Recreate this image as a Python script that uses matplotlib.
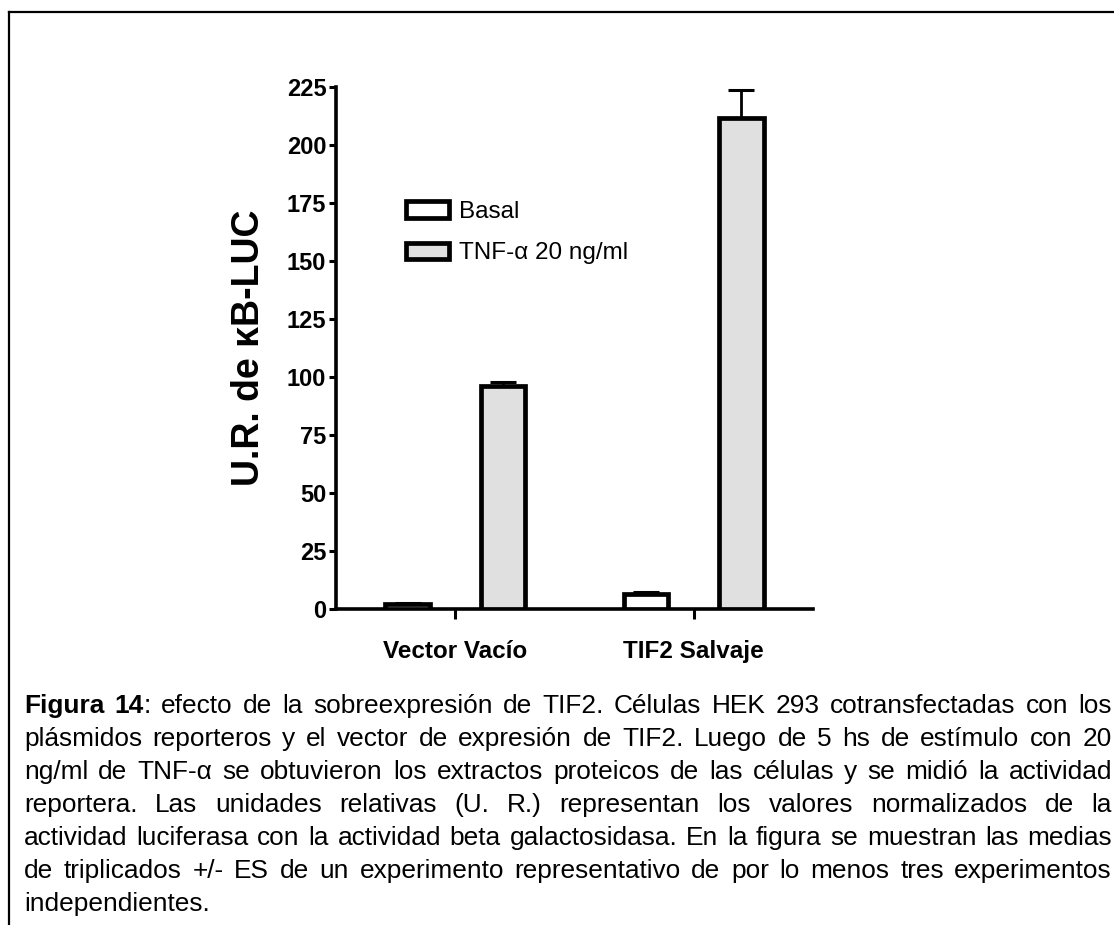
import matplotlib
matplotlib.use("Agg")
import matplotlib.pyplot as plt
from matplotlib.lines import Line2D
import numpy as np

plt.rcParams['font.family'] = ['Liberation Sans', 'DejaVu Sans']

# data
groups = ["Vector Vacío", "TIF2 Salvaje"]
basal = [2.2, 6.5]
basal_err = [0.3, 1.0]
tnf = [96.0, 211.5]
tnf_err = [2.0, 12.0]
yticks = np.arange(0, 226, 25)

caption = [
    [[("Figura", "bold")], [("14", "bold"), (":", "normal")], "efecto", "de", "la",
     "sobreexpresión", "de", "TIF2.", "Células", "HEK", "293", "cotransfectadas", "con", "los"],
    "plásmidos reporteros y el vector de expresión de TIF2. Luego de 5 hs de estímulo con 20",
    "ng/ml de TNF-α se obtuvieron los extractos proteicos de las células y se midió la actividad",
    "reportera. Las unidades relativas (U. R.) representan los valores normalizados de la",
    "actividad luciferasa con la actividad beta galactosidasa. En la figura se muestran las medias",
    "de triplicados +/- ES de un experimento representativo de por lo menos tres experimentos",
    "independientes.",
]

W, H = 1114, 925
fig = plt.figure(figsize=(W / 100, H / 100), dpi=100)
ax = fig.add_axes([336 / W, 1 - 609 / H, (813 - 336) / W, (609 - 87) / H])

x = np.arange(len(groups))
off, bw = 0.2, 0.185
b1 = ax.bar(x - off, basal, bw, color="white", edgecolor="black", linewidth=3.4,
            label="Basal", zorder=3)
b2 = ax.bar(x + off, tnf, bw, color="#e0e0e0", edgecolor="black", linewidth=3.4,
            label="TNF-α 20 ng/ml", zorder=3)
for xs, ys, es in [(x - off, basal, basal_err), (x + off, tnf, tnf_err)]:
    ax.errorbar(xs, ys, yerr=[np.zeros(len(es)), es], fmt="none", ecolor="black",
                elinewidth=2, capsize=9.5, capthick=2.2, zorder=2)

ax.set_xlim(-0.5, 1.5)
ax.set_ylim(0, 225)
ax.set_yticks(yticks)
ax.set_xticks(x)
ax.set_xticklabels(groups, fontsize=17.5, fontweight="bold")
for lab in ax.get_yticklabels():
    lab.set_fontsize(17)
    lab.set_fontweight("bold")
ax.tick_params(axis="y", direction="out", length=5, width=2.2, pad=2)
ax.tick_params(axis="x", direction="out", length=7.5, width=2.2, pad=14.5)
for s in ["top", "right"]:
    ax.spines[s].set_visible(False)
for s in ["left", "bottom"]:
    ax.spines[s].set_linewidth(2.6)

fig.text(249 / W, 1 - 348 / H, "U.R. de κB-LUC", rotation=90, ha="center", va="center",
         fontsize=27, fontweight="bold")

ax.legend(handles=[b1, b2], loc="upper left", bbox_to_anchor=(406 / W, 1 - 201 / H),
          bbox_transform=fig.transFigure, frameon=False, fontsize=17.5,
          handlelength=1.75, handleheight=0.68, handletextpad=0.45, labelspacing=0.8,
          borderpad=0, borderaxespad=0)

# frame around the figure (left and top sides visible)
fig.add_artist(Line2D([9 / W, 9 / W], [0, 1 - 12 / H], color="black", lw=1.6,
                      transform=fig.transFigure))
fig.add_artist(Line2D([9 / W, 1], [1 - 12 / H, 1 - 12 / H], color="black", lw=1.6,
                      transform=fig.transFigure))

# justified caption
renderer = fig.canvas.get_renderer()
left, right = 24, 1112
base0, step = 713, 33


def seg_width(txt, weight, size):
    t = fig.text(0, 0, txt, fontsize=size, fontweight=weight)
    w = t.get_window_extent(renderer).width
    t.remove()
    return w


# size the caption font so the least stretched line (line 5) is almost natural
cfs = 0.985 * (right - left) / seg_width(caption[4], "normal", 10) * 10
space_w = seg_width("a a", "normal", cfs) - seg_width("aa", "normal", cfs)

for i, line in enumerate(caption):
    words = line.split() if isinstance(line, str) else line
    words = [[(w, "normal")] if isinstance(w, str) else w for w in words]
    widths = [[seg_width(s, wt, cfs) for s, wt in w] for w in words]
    total = sum(sum(ws) for ws in widths)
    last = i == len(caption) - 1
    gap = space_w if last else (right - left - total) / (len(words) - 1)
    y = 1 - (base0 + i * step) / H
    xp = left
    for w, ws in zip(words, widths):
        for (s, wt), sw in zip(w, ws):
            fig.text(xp / W, y, s, fontsize=cfs, fontweight=wt, ha="left", va="baseline")
            xp += sw
        xp += gap

fig.savefig("out.png", dpi=100)
